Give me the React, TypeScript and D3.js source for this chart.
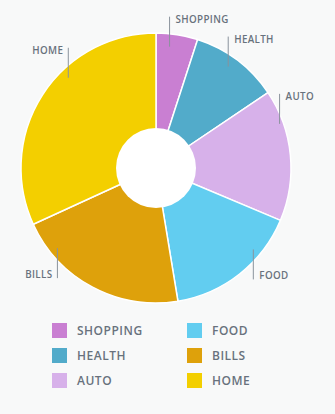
import React from "react";
import * as d3 from "d3";

const categories = ["SHOPPING", "HEALTH", "AUTO", "FOOD", "BILLS", "HOME"];
const values = [5, 10.6, 15.8, 16.1, 20.8, 31.9];
const colors = ["#c97fd2", "#52abca", "#d7b1ea", "#62cdf0", "#dea10b", "#f3cf00"];
// label leader offsets relative to slice mid-angle (degrees)
const labelShift = [-3.3, -5.2, -20, -7, 18, 17.5];

const W = 335;
const H = 414;
const cx = 156;
const cy = 168;
const R = 135;
const r0 = 40;
const TEXT = "#68727d";
const FONT = "'Open Sans', 'DejaVu Sans', sans-serif";

export default function App() {
  const pie = d3.pie<number>().sort(null).value((d) => d);
  const arcs = pie(values);
  const arc = d3.arc<d3.PieArcDatum<number>>().innerRadius(0).outerRadius(R);

  const labels = arcs.map((a, i) => {
    const mid = (a.startAngle + a.endAngle) / 2 + (labelShift[i] * Math.PI) / 180;
    const lx = cx + Math.sin(mid) * 137;
    const ly = cy - Math.cos(mid) * 137;
    const right = Math.sin(mid) > 0;
    const top = Math.cos(mid) > 0;
    const y0 = ly - 15;
    const y1 = ly + 15;
    return { i, lx, y0, y1, right, top };
  });

  const col = d3.scaleOrdinal<number, number>().domain([0, 1]).range([52, 187]);
  const row = d3.scaleLinear().domain([0, 1]).range([323, 348]);

  return (
    <div style={{ position: "fixed", left: 0, top: 0 }}>
      <svg width={W} height={H} style={{ display: "block" }}>
        <rect width={W} height={H} fill="#f8f9f9" />
        <g transform={`translate(${cx},${cy})`}>
          {arcs.map((a, i) => (
            <path key={i} d={arc(a) || ""} fill={colors[i]} stroke="#ffffff" strokeWidth={1.5} strokeLinejoin="round" />
          ))}
          <circle r={r0} fill="#ffffff" />
        </g>
        {labels.map((l) => (
          <g key={l.i}>
            <line x1={l.lx} x2={l.lx} y1={l.y0} y2={l.y1} stroke="#8a939c" strokeWidth={1} />
            <text
              x={l.right ? l.lx + 6 : l.lx - 5}
              y={l.top ? l.y0 + 6.5 : l.y1}
              textAnchor={l.right ? "start" : "end"}
              fontFamily={FONT}
              fontWeight={600}
              fontSize={9.8}
              letterSpacing={0.35}
              fill={TEXT}
            >
              {categories[l.i]}
            </text>
          </g>
        ))}
        {categories.map((c, i) => {
          const cIdx = Math.floor(i / 3);
          const rIdx = i % 3;
          const x = col(cIdx);
          const y = row(rIdx);
          return (
            <g key={c}>
              <rect x={x} y={y} width={15} height={15} fill={colors[i]} />
              <text x={x + 25} y={y + 12} fontFamily={FONT} fontWeight={600} fontSize={12} letterSpacing={0.5} fill={TEXT}>
                {c}
              </text>
            </g>
          );
        })}
      </svg>
    </div>
  );
}
